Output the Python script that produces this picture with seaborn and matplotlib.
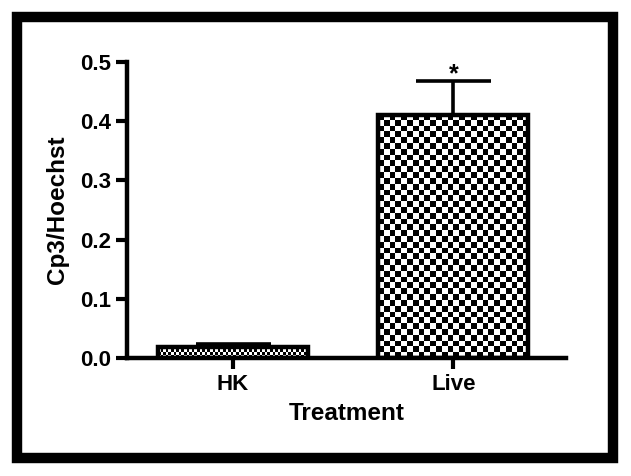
import numpy as np
import matplotlib
matplotlib.use("Agg")
import matplotlib.pyplot as plt
from matplotlib.patches import Rectangle
import pandas as pd
import seaborn as sns

treatments = ["HK", "Live"]
means = [0.019, 0.411]
sem = [0.004, 0.057]
y_ticks = [0.0, 0.1, 0.2, 0.3, 0.4, 0.5]

sns.set_style("ticks")
plt.rcParams["font.family"] = ["Liberation Sans", "DejaVu Sans"]
plt.rcParams["font.weight"] = "bold"
for k in ["text.color", "axes.labelcolor", "xtick.color", "ytick.color",
          "axes.edgecolor"]:
    plt.rcParams[k] = "black"

df = pd.DataFrame({"Treatment": treatments, "value": means})

W, H = 631, 476
fig = plt.figure(figsize=(W / 100, H / 100), dpi=100)
ax = fig.add_axes([127 / W, (H - 358) / H, (566 - 127) / W, (358 - 62) / H])

sns.barplot(data=df, x="Treatment", y="value", color="white", width=0.68,
            edgecolor="black", linewidth=3.2, errorbar=None, ax=ax, zorder=3)

ax.set_xlim(-0.48, 1.51)
ax.set_ylim(0, 0.5)

# checkerboard fill, clipped to each bar
fig.canvas.draw()
for p, cell in zip(ax.patches, [2.6, 5.8]):
    p.set_facecolor("none")
    x0, y0 = p.get_x(), p.get_y()
    x1, y1 = x0 + p.get_width(), y0 + p.get_height()
    (px0, py0), (px1, py1) = ax.transData.transform([(x0, y0), (x1, y1)])
    nx = max(int(round((px1 - px0) / cell)), 1)
    ny = max(int(round((py1 - py0) / cell)), 2)
    board = (np.indices((ny, nx)).sum(axis=0) % 2).astype(float)
    im = ax.imshow(board, cmap="gray", vmin=0, vmax=1, extent=(x0, x1, y0, y1),
                   aspect="auto", interpolation="nearest", zorder=2)
    im.set_clip_path(p)

ax.errorbar(range(len(treatments)), means, yerr=[[0] * len(sem), sem],
            fmt="none", ecolor="black", elinewidth=2.6, capsize=27,
            capthick=2.6, zorder=4)

ax.text(1, means[1] + sem[1] + 0.012, "*", ha="center", va="center",
        fontsize=18, fontweight="bold")

ax.set_yticks(y_ticks)
ax.set_yticklabels([f"{t:.1f}" for t in y_ticks])
ax.set_xlabel("Treatment", fontsize=17.5, fontweight="bold", labelpad=5)
ax.set_ylabel("Cp3/Hoechst", fontsize=17.5, fontweight="bold", labelpad=8)
ax.tick_params(axis="both", labelsize=16, width=3, length=8, color="black")
for lab in ax.get_xticklabels() + ax.get_yticklabels():
    lab.set_fontweight("bold")

sns.despine(ax=ax)
for s in ["left", "bottom"]:
    ax.spines[s].set_linewidth(3.2)
    ax.spines[s].set_color("black")

# thick outer frame
fig.patches.append(Rectangle((17 / W, (H - 458) / H), (613 - 17) / W,
                             (458 - 17) / H, transform=fig.transFigure,
                             fill=False, edgecolor="black", linewidth=7.5))

fig.savefig("out.png", dpi=100)
